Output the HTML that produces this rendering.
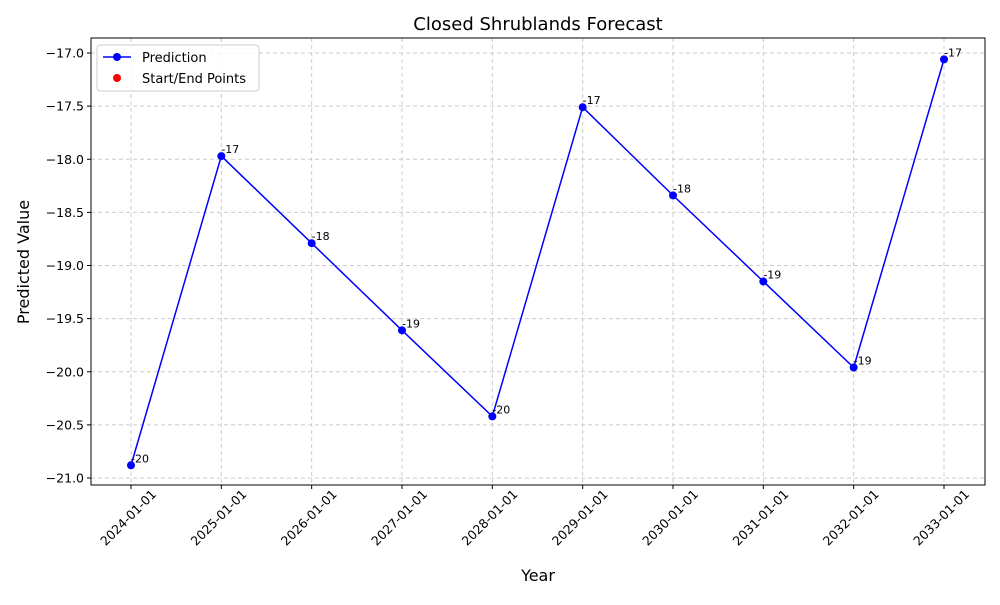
<!DOCTYPE html>
<html><head><meta charset="utf-8"><style>
body{margin:0;background:#fff;font-family:"Liberation Sans","DejaVu Sans",sans-serif;}
svg text{font-family:"DejaVu Sans","Liberation Sans",sans-serif;}
</style></head><body>
<svg id="chart" width="1000" height="600" xmlns="http://www.w3.org/2000/svg">
<rect width="1000" height="600" fill="#fff"/>
<text x="538" y="30" font-size="18" text-anchor="middle">Closed Shrublands Forecast</text>
<g id="grid"></g>
<g id="axes"></g>
<g id="series"></g>
<rect x="91" y="38" width="894" height="447" fill="none" stroke="#000" stroke-width="1"/>
<text x="538" y="581" font-size="16" text-anchor="middle">Year</text>
<text transform="translate(29,262) rotate(-90)" font-size="16" text-anchor="middle">Predicted Value</text>
<g>
<rect x="97" y="45" width="162" height="46" rx="3" fill="#fff" fill-opacity="0.8" stroke="#ccc"/>
<g>
<line x1="103" y1="57" x2="131" y2="57" stroke="blue" stroke-width="1.5"/>
<circle cx="117" cy="57" r="4" fill="blue"/>
<text x="142" y="62" font-size="13">Prediction</text></g>
<g>
<circle cx="117" cy="78" r="4" fill="red"/>
<text x="142" y="83" font-size="13">Start/End Points</text></g>
</g>
</svg>
<script>
const categories=["2024-01-01","2025-01-01","2026-01-01","2027-01-01","2028-01-01","2029-01-01","2030-01-01","2031-01-01","2032-01-01","2033-01-01"];
const values=[-20.88,-17.97,-18.79,-19.61,-20.42,-17.51,-18.34,-19.15,-19.96,-17.06];
const pointLabels=["-20","-17","-18","-19","-20","-17","-18","-19","-19","-17"];
const yTicks=[-17.0,-17.5,-18.0,-18.5,-19.0,-19.5,-20.0,-20.5,-21.0];
const NS="http://www.w3.org/2000/svg";
const xS=i=>131+i*(944-131)/(categories.length-1);
const yS=v=>53+(-17-v)*106.25;
function mk(tag,attrs,parent,txt){const e=document.createElementNS(NS,tag);for(const k in attrs)e.setAttribute(k,attrs[k]);if(txt!==undefined)e.textContent=txt;parent.appendChild(e);return e;}
const grid=document.getElementById('grid'),axes=document.getElementById('axes'),ser=document.getElementById('series');
yTicks.forEach(t=>{const y=yS(t);
const g=mk('line',{x1:91,x2:985,y1:y,y2:y,stroke:'#ccc','stroke-dasharray':'4,3'},grid);


mk('line',{x1:87,x2:91,y1:y,y2:y,stroke:'#000'},axes);
const l=mk('text',{x:84,y:y+4.5,'font-size':12.5,'text-anchor':'end'},axes,t.toFixed(1).replace('-','\u2212'));

});
categories.forEach((c,i)=>{const x=xS(i);
const g=mk('line',{x1:x,x2:x,y1:38,y2:485,stroke:'#ccc','stroke-dasharray':'4,3'},grid);


mk('line',{x1:x,x2:x,y1:485,y2:489,stroke:'#000'},axes);
const l=mk('text',{transform:`translate(${x+26},${495}) rotate(-45)`,'font-size':12.5,'text-anchor':'end'},axes,c);

});
const pts=values.map((v,i)=>xS(i)+','+yS(v)).join(' ');
const pl=mk('polyline',{points:pts,fill:'none',stroke:'blue','stroke-width':1.5},ser);


values.forEach((v,i)=>{
const c=mk('circle',{cx:xS(i),cy:yS(v),r:4,fill:'blue'},ser);


const t=mk('text',{x:xS(i),y:yS(v)-3,'font-size':11},ser,pointLabels[i]);

});
</script>
</body></html>
